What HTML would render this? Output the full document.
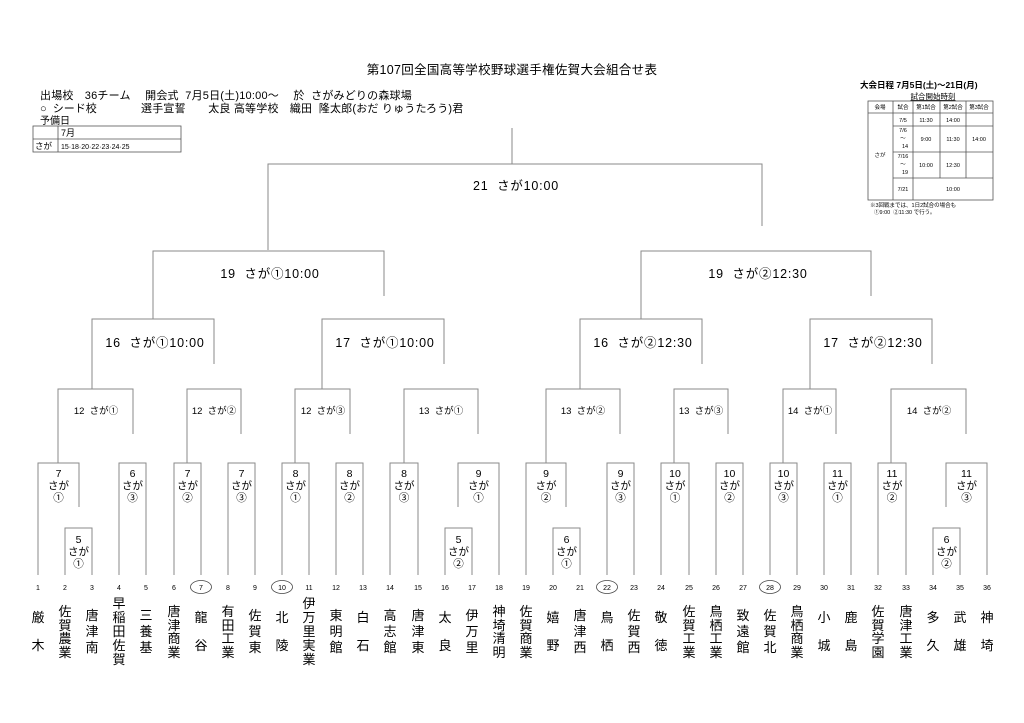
<!DOCTYPE html>
<html><head><meta charset="utf-8"><style>
body{margin:0;background:#fff;}
svg{display:block;font-family:"Liberation Sans","Noto Sans CJK JP",sans-serif;}
.b{fill:none;stroke:#8a8a8a;stroke-width:1}
.t{stroke:#555;stroke-width:0.8;fill:none}
</style></head><body>
<svg width="1024" height="723" viewBox="0 0 1024 723" xmlns="http://www.w3.org/2000/svg">
<!-- header -->
<text x="512" y="74" font-size="12.5" text-anchor="middle" letter-spacing="0.3">第107回全国高等学校野球選手権佐賀大会組合せ表</text>
<text x="40" y="99" font-size="11" xml:space="preserve" letter-spacing="0.2">出場校　36チーム　 開会式  7月5日(土)10:00～　 於  さがみどりの森球場</text>
<text x="40" y="112" font-size="11" xml:space="preserve">○  シード校</text>
<text x="141" y="112" font-size="11" xml:space="preserve" letter-spacing="0.2">選手宣誓　　太良 高等学校　織田  隆太郎(おだ りゅうたろう)君</text>
<text x="40" y="124" font-size="10">予備日</text>
<rect x="33" y="126" width="148" height="26" class="t"/>
<line x1="33" y1="139" x2="181" y2="139" class="t"/>
<line x1="58" y1="126" x2="58" y2="152" class="t"/>
<text x="61" y="136" font-size="9">7月</text>
<text x="35" y="149" font-size="8.5">さが</text>
<text x="61" y="149" font-size="7">15·18·20·22·23·24·25</text>

<!-- right table -->
<text x="860" y="88" font-size="8.5" font-weight="bold">大会日程  7月5日(土)～21日(月)</text>
<text x="933" y="99" font-size="7.5" text-anchor="middle" text-decoration="underline">試合開始時刻</text>
<g class="t">
<rect x="868" y="101" width="125" height="99"/>
<line x1="868" y1="113" x2="993" y2="113"/>
<line x1="893" y1="126" x2="993" y2="126"/>
<line x1="893" y1="152" x2="993" y2="152"/>
<line x1="893" y1="178" x2="993" y2="178"/>
<line x1="893" y1="101" x2="893" y2="200"/>
<line x1="913" y1="101" x2="913" y2="200"/>
<line x1="940" y1="101" x2="940" y2="178"/>
<line x1="966" y1="101" x2="966" y2="178"/>
</g>
<g font-size="5.5" text-anchor="middle">
<text x="880" y="109">会場</text><text x="903" y="109">試合</text><text x="926" y="109">第1試合</text><text x="953" y="109">第2試合</text><text x="979" y="109">第3試合</text>
<text x="903" y="122">7/5</text><text x="926" y="122">11:30</text><text x="953" y="122">14:00</text>
<text x="903" y="132">7/6</text><text x="903" y="140">～</text><text x="905" y="148">14</text>
<text x="926" y="141">9:00</text><text x="953" y="141">11:30</text><text x="979" y="141">14:00</text>
<text x="880" y="157">さが</text>
<text x="903" y="158">7/16</text><text x="903" y="166">～</text><text x="905" y="174">19</text>
<text x="926" y="167">10:00</text><text x="953" y="167">12:30</text>
<text x="903" y="191">7/21</text><text x="953" y="191">10:00</text>
</g>
<text x="870" y="207" font-size="5.5">※3回戦までは、1日2試合の場合も</text>
<text x="874" y="214" font-size="5.5" xml:space="preserve">①9:00  ②11:30 で行う。</text>

<!-- bracket -->
<g class="b">
<path d="M512 128V164"/>
<path d="M268 250V164H762V226"/>
<path d="M153 319V251H384V296"/>
<path d="M641 319V251H871V296"/>
<path d="M92 389V319H214V364"/>
<path d="M322 389V319H444V364"/>
<path d="M580 389V319H702V364"/>
<path d="M810 389V319H932V364"/>
<path d="M58 463V389H133V434"/>
<path d="M187 463V389H241V434"/>
<path d="M295 463V389H350V434"/>
<path d="M404 463V389H478V434"/>
<path d="M546 463V389H620V434"/>
<path d="M674 463V389H728V434"/>
<path d="M783 463V389H836V434"/>
<path d="M891 463V389H966V434"/>
<path d="M38 575V463H79V507"/>
<path d="M65 575V528H92V575"/>
<path d="M119 575V463H146V575"/>
<path d="M174 575V463H201V575"/>
<path d="M228 575V463H255V575"/>
<path d="M282 575V463H309V575"/>
<path d="M336 575V463H363V575"/>
<path d="M390 575V463H418V575"/>
<path d="M458 507V463H499V575"/>
<path d="M445 575V528H472V575"/>
<path d="M526 575V463H566V507"/>
<path d="M553 575V528H580V575"/>
<path d="M607 575V463H634V575"/>
<path d="M661 575V463H689V575"/>
<path d="M716 575V463H743V575"/>
<path d="M770 575V463H797V575"/>
<path d="M824 575V463H851V575"/>
<path d="M878 575V463H906V575"/>
<path d="M946 507V463H987V575"/>
<path d="M933 575V528H960V575"/>
</g>

<g font-size="12.5" text-anchor="middle" letter-spacing="0.8">
<text x="516" y="190" xml:space="preserve">21  さが10:00</text>
<text x="270" y="278" xml:space="preserve">19  さが①10:00</text>
<text x="758" y="278" xml:space="preserve">19  さが②12:30</text>
<text x="155" y="347" xml:space="preserve">16  さが①10:00</text>
<text x="385" y="347" xml:space="preserve">17  さが①10:00</text>
<text x="643" y="347" xml:space="preserve">16  さが②12:30</text>
<text x="873" y="347" xml:space="preserve">17  さが②12:30</text>
</g>
<g font-size="9.5" text-anchor="middle">
<text x="96" y="414" xml:space="preserve">12  さが①</text>
<text x="214" y="414" xml:space="preserve">12  さが②</text>
<text x="323" y="414" xml:space="preserve">12  さが③</text>
<text x="441" y="414" xml:space="preserve">13  さが①</text>
<text x="583" y="414" xml:space="preserve">13  さが②</text>
<text x="701" y="414" xml:space="preserve">13  さが③</text>
<text x="810" y="414" xml:space="preserve">14  さが①</text>
<text x="929" y="414" xml:space="preserve">14  さが②</text>
</g>
<g font-size="10.5" text-anchor="middle">
<text x="58.5" y="477">7</text><text x="58.5" y="489">さが</text><text x="58.5" y="501">①</text>
<text x="132.5" y="477">6</text><text x="132.5" y="489">さが</text><text x="132.5" y="501">③</text>
<text x="187.5" y="477">7</text><text x="187.5" y="489">さが</text><text x="187.5" y="501">②</text>
<text x="241.5" y="477">7</text><text x="241.5" y="489">さが</text><text x="241.5" y="501">③</text>
<text x="295.5" y="477">8</text><text x="295.5" y="489">さが</text><text x="295.5" y="501">①</text>
<text x="349.5" y="477">8</text><text x="349.5" y="489">さが</text><text x="349.5" y="501">②</text>
<text x="404" y="477">8</text><text x="404" y="489">さが</text><text x="404" y="501">③</text>
<text x="478.5" y="477">9</text><text x="478.5" y="489">さが</text><text x="478.5" y="501">①</text>
<text x="546" y="477">9</text><text x="546" y="489">さが</text><text x="546" y="501">②</text>
<text x="620.5" y="477">9</text><text x="620.5" y="489">さが</text><text x="620.5" y="501">③</text>
<text x="675" y="477">10</text><text x="675" y="489">さが</text><text x="675" y="501">①</text>
<text x="729.5" y="477">10</text><text x="729.5" y="489">さが</text><text x="729.5" y="501">②</text>
<text x="783.5" y="477">10</text><text x="783.5" y="489">さが</text><text x="783.5" y="501">③</text>
<text x="837.5" y="477">11</text><text x="837.5" y="489">さが</text><text x="837.5" y="501">①</text>
<text x="892" y="477">11</text><text x="892" y="489">さが</text><text x="892" y="501">②</text>
<text x="966.5" y="477">11</text><text x="966.5" y="489">さが</text><text x="966.5" y="501">③</text>
<text x="78.5" y="543">5</text><text x="78.5" y="555">さが</text><text x="78.5" y="567">①</text>
<text x="458.5" y="543">5</text><text x="458.5" y="555">さが</text><text x="458.5" y="567">②</text>
<text x="566.5" y="543">6</text><text x="566.5" y="555">さが</text><text x="566.5" y="567">①</text>
<text x="946.5" y="543">6</text><text x="946.5" y="555">さが</text><text x="946.5" y="567">②</text>
</g>

<!-- numbers -->
<g font-size="7" text-anchor="middle">
<text x="38" y="590">1</text><text x="65" y="590">2</text><text x="92" y="590">3</text><text x="119" y="590">4</text><text x="146" y="590">5</text><text x="174" y="590">6</text><text x="201" y="590">7</text><text x="228" y="590">8</text><text x="255" y="590">9</text><text x="282" y="590">10</text><text x="309" y="590">11</text><text x="336" y="590">12</text><text x="363" y="590">13</text><text x="390" y="590">14</text><text x="418" y="590">15</text><text x="445" y="590">16</text><text x="472" y="590">17</text><text x="499" y="590">18</text><text x="526" y="590">19</text><text x="553" y="590">20</text><text x="580" y="590">21</text><text x="607" y="590">22</text><text x="634" y="590">23</text><text x="661" y="590">24</text><text x="689" y="590">25</text><text x="716" y="590">26</text><text x="743" y="590">27</text><text x="770" y="590">28</text><text x="797" y="590">29</text><text x="824" y="590">30</text><text x="851" y="590">31</text><text x="878" y="590">32</text><text x="906" y="590">33</text><text x="933" y="590">34</text><text x="960" y="590">35</text><text x="987" y="590">36</text>
</g>
<g fill="none" stroke="#444" stroke-width="0.8">
<ellipse cx="201" cy="587" rx="10.5" ry="6.5"/>
<ellipse cx="282" cy="587" rx="10.5" ry="6.5"/>
<ellipse cx="607" cy="587" rx="10.5" ry="6.5"/>
<ellipse cx="770" cy="587" rx="10.5" ry="6.5"/>
</g>

<!-- team names -->
<g font-size="13" text-anchor="middle" dominant-baseline="central">
<text><tspan x="38" y="617">厳</tspan><tspan x="38" y="645">木</tspan></text>
<text><tspan x="65" y="611">佐</tspan><tspan x="65" y="625">賀</tspan><tspan x="65" y="638">農</tspan><tspan x="65" y="652">業</tspan></text>
<text><tspan x="92" y="615">唐</tspan><tspan x="92" y="631">津</tspan><tspan x="92" y="647">南</tspan></text>
<text><tspan x="119" y="603">早</tspan><tspan x="119" y="617">稲</tspan><tspan x="119" y="631">田</tspan><tspan x="119" y="645">佐</tspan><tspan x="119" y="659">賀</tspan></text>
<text><tspan x="146" y="615">三</tspan><tspan x="146" y="631">養</tspan><tspan x="146" y="647">基</tspan></text>
<text><tspan x="174" y="611">唐</tspan><tspan x="174" y="625">津</tspan><tspan x="174" y="638">商</tspan><tspan x="174" y="652">業</tspan></text>
<text><tspan x="201" y="617">龍</tspan><tspan x="201" y="645">谷</tspan></text>
<text><tspan x="228" y="611">有</tspan><tspan x="228" y="625">田</tspan><tspan x="228" y="638">工</tspan><tspan x="228" y="652">業</tspan></text>
<text><tspan x="255" y="615">佐</tspan><tspan x="255" y="631">賀</tspan><tspan x="255" y="647">東</tspan></text>
<text><tspan x="282" y="617">北</tspan><tspan x="282" y="645">陵</tspan></text>
<text><tspan x="309" y="603">伊</tspan><tspan x="309" y="617">万</tspan><tspan x="309" y="631">里</tspan><tspan x="309" y="645">実</tspan><tspan x="309" y="659">業</tspan></text>
<text><tspan x="336" y="615">東</tspan><tspan x="336" y="631">明</tspan><tspan x="336" y="647">館</tspan></text>
<text><tspan x="363" y="617">白</tspan><tspan x="363" y="645">石</tspan></text>
<text><tspan x="390" y="615">高</tspan><tspan x="390" y="631">志</tspan><tspan x="390" y="647">館</tspan></text>
<text><tspan x="418" y="615">唐</tspan><tspan x="418" y="631">津</tspan><tspan x="418" y="647">東</tspan></text>
<text><tspan x="445" y="617">太</tspan><tspan x="445" y="645">良</tspan></text>
<text><tspan x="472" y="615">伊</tspan><tspan x="472" y="631">万</tspan><tspan x="472" y="647">里</tspan></text>
<text><tspan x="499" y="611">神</tspan><tspan x="499" y="625">埼</tspan><tspan x="499" y="638">清</tspan><tspan x="499" y="652">明</tspan></text>
<text><tspan x="526" y="611">佐</tspan><tspan x="526" y="625">賀</tspan><tspan x="526" y="638">商</tspan><tspan x="526" y="652">業</tspan></text>
<text><tspan x="553" y="617">嬉</tspan><tspan x="553" y="645">野</tspan></text>
<text><tspan x="580" y="615">唐</tspan><tspan x="580" y="631">津</tspan><tspan x="580" y="647">西</tspan></text>
<text><tspan x="607" y="617">鳥</tspan><tspan x="607" y="645">栖</tspan></text>
<text><tspan x="634" y="615">佐</tspan><tspan x="634" y="631">賀</tspan><tspan x="634" y="647">西</tspan></text>
<text><tspan x="661" y="617">敬</tspan><tspan x="661" y="645">徳</tspan></text>
<text><tspan x="689" y="611">佐</tspan><tspan x="689" y="625">賀</tspan><tspan x="689" y="638">工</tspan><tspan x="689" y="652">業</tspan></text>
<text><tspan x="716" y="611">鳥</tspan><tspan x="716" y="625">栖</tspan><tspan x="716" y="638">工</tspan><tspan x="716" y="652">業</tspan></text>
<text><tspan x="743" y="615">致</tspan><tspan x="743" y="631">遠</tspan><tspan x="743" y="647">館</tspan></text>
<text><tspan x="770" y="615">佐</tspan><tspan x="770" y="631">賀</tspan><tspan x="770" y="647">北</tspan></text>
<text><tspan x="797" y="611">鳥</tspan><tspan x="797" y="625">栖</tspan><tspan x="797" y="638">商</tspan><tspan x="797" y="652">業</tspan></text>
<text><tspan x="824" y="617">小</tspan><tspan x="824" y="645">城</tspan></text>
<text><tspan x="851" y="617">鹿</tspan><tspan x="851" y="645">島</tspan></text>
<text><tspan x="878" y="611">佐</tspan><tspan x="878" y="625">賀</tspan><tspan x="878" y="638">学</tspan><tspan x="878" y="652">園</tspan></text>
<text><tspan x="906" y="611">唐</tspan><tspan x="906" y="625">津</tspan><tspan x="906" y="638">工</tspan><tspan x="906" y="652">業</tspan></text>
<text><tspan x="933" y="617">多</tspan><tspan x="933" y="645">久</tspan></text>
<text><tspan x="960" y="617">武</tspan><tspan x="960" y="645">雄</tspan></text>
<text><tspan x="987" y="617">神</tspan><tspan x="987" y="645">埼</tspan></text>
</g>
</svg>
</body></html>
